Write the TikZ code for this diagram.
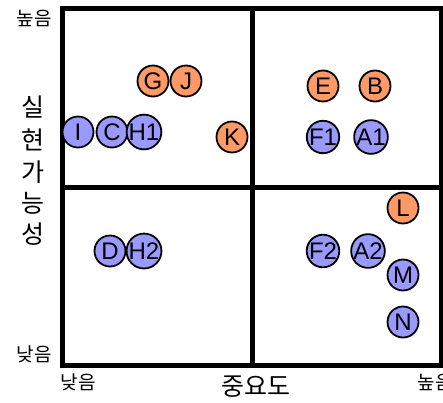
\documentclass[tikz,border=0pt]{standalone}
\usepackage{fontspec}
\setmainfont{Liberation Sans}
\newfontfamily\kr{Noto Sans CJK KR}
\definecolor{po}{HTML}{FF9966}
\definecolor{pb}{HTML}{9999FF}
\tikzset{
  pt/.style={circle, draw=black, line width=1.8pt, minimum size=31pt, inner sep=0pt, font=\fontsize{24}{24}\selectfont},
  po/.style={pt, fill=po},
  pb/.style={pt, fill=pb},
  grid/.style={line width=5pt},
  small/.style={font=\kr\fontsize{19}{19}\selectfont},
  big/.style={font=\kr\fontsize{25}{25}\selectfont},
}
\begin{document}
\begin{tikzpicture}[x=1pt,y=-1pt]
\useasboundingbox (0,0) rectangle (443,402);
\fill[white] (0,0) rectangle (443,402);
\draw[grid] (62.5,8) rectangle (441.5,365);
\draw[grid] (252,8) -- (252,365);
\draw[grid] (62.5,187) -- (441.5,187);
% points
\node[po] (G) at (153,81) {G};
\node[po] (J) at (186,81) {J};
\node[pb] (I) at (78,132) {I};
\node[pb] (C) at (112,132) {C};
\node[pb] (H1) at (144,132) {H1};
\node[po] (K) at (232,137) {K};
\node[po] (E) at (323,86) {E};
\node[po] (B) at (375,86) {B};
\node[pb] (F1) at (323,137) {F1};
\node[pb] (A1) at (371,137) {A1};
\node[po] (L) at (403,208) {L};
\node[pb] (D) at (110,251) {D};
\node[pb] (H2) at (144,251) {H2};
\node[pb] (F2) at (323,251) {F2};
\node[pb] (A2) at (368,251) {A2};
\node[pb] (M) at (403,275) {M};
\node[pb] (N) at (403,322) {N};
% axis labels
\node[small] (hi) at (34,18) {높음};
\node[small] (lo) at (34,354) {낮음};
\node[small] (xlo) at (78,382) {낮음};
\node[small] (xhi) at (435,382) {높음};
\node[big] (xl) at (256,387) {중요도};
\node[big] (y1) at (33,107) {실};
\node[big] (y2) at (33,140) {현};
\node[big] (y3) at (33,172) {가};
\node[big] (y4) at (33,203) {능};
\node[big] (y5) at (33,234) {성};
\end{tikzpicture}
\end{document}
